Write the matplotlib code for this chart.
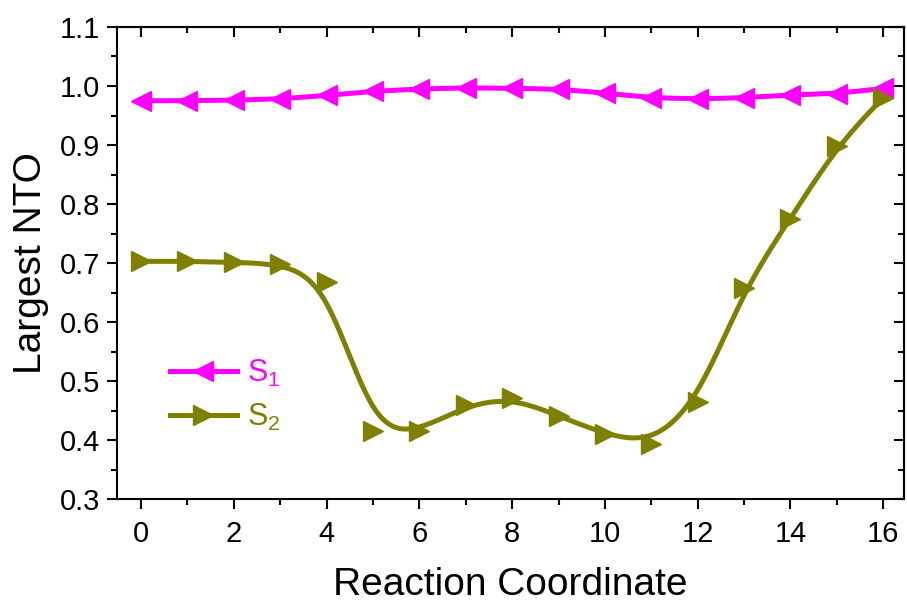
import numpy as np
import matplotlib
matplotlib.use("Agg")
import matplotlib.pyplot as plt
from matplotlib.ticker import MultipleLocator

plt.rcParams['font.family'] = ['Liberation Sans', 'DejaVu Sans']
plt.rcParams['mathtext.fontset'] = 'custom'
plt.rcParams['mathtext.rm'] = 'Liberation Sans'
plt.rcParams['mathtext.it'] = 'Liberation Sans:italic'
plt.rcParams['mathtext.default'] = 'regular'

x = list(range(17))
s1 = [0.975, 0.975, 0.976, 0.978, 0.984, 0.991, 0.995, 0.997, 0.996,
      0.995, 0.988, 0.980, 0.978, 0.980, 0.985, 0.987, 0.996]
s2 = [0.703, 0.703, 0.701, 0.699, 0.668, 0.415, 0.415, 0.459, 0.472,
      0.441, 0.410, 0.394, 0.465, 0.657, 0.775, 0.898, 0.980]

MAGENTA = '#FF00FF'
OLIVE = '#808000'


def bspline(px, py, n=40):
    px = np.asarray(px, float)
    py = np.asarray(py, float)
    P = np.column_stack([px, py])
    P = np.vstack([P[0], P[0], P, P[-1], P[-1]])
    t = np.linspace(0, 1, n, endpoint=False)
    b0 = (1 - t) ** 3 / 6
    b1 = (3 * t ** 3 - 6 * t ** 2 + 4) / 6
    b2 = (-3 * t ** 3 + 3 * t ** 2 + 3 * t + 1) / 6
    b3 = t ** 3 / 6
    out = []
    for i in range(len(P) - 3):
        seg = (np.outer(b0, P[i]) + np.outer(b1, P[i + 1]) +
               np.outer(b2, P[i + 2]) + np.outer(b3, P[i + 3]))
        out.append(seg)
    out.append(P[-1][None, :])
    out = np.vstack(out)
    return out[:, 0], out[:, 1]


fig = plt.figure(figsize=(9.07, 6.05), dpi=100)
ax = fig.add_axes([0.129, 0.175, 0.8677, 0.7804])

lw = 3.6
ms = 15

bx, by = bspline(x, s1)
ax.plot(bx, by, color=MAGENTA, lw=lw, zorder=2)
ax.plot(x, s1, linestyle='none', marker='<', ms=ms, color=MAGENTA, zorder=3)
bx, by = bspline(x, s2)
ax.plot(bx, by, color=OLIVE, lw=lw, zorder=2)
ax.plot(x, s2, linestyle='none', marker='>', ms=ms, color=OLIVE, zorder=3)

# legend proxies
h1, = ax.plot([], [], color=MAGENTA, lw=lw, marker='<', ms=ms)
h2, = ax.plot([], [], color=OLIVE, lw=lw, marker='>', ms=ms)
leg = ax.legend([h1, h2], ['S$_1$', 'S$_2$'], loc='upper left',
                bbox_to_anchor=(0.067, 0.30), frameon=False, fontsize=22,
                handlelength=2.2, handletextpad=0.33, labelspacing=0.43,
                borderpad=0, borderaxespad=0, numpoints=1,
                labelcolor='linecolor')

ax.set_xlim(-0.52, 16.45)
ax.set_ylim(0.3, 1.1)
ax.xaxis.set_major_locator(MultipleLocator(2))
ax.xaxis.set_minor_locator(MultipleLocator(1))
ax.yaxis.set_major_locator(MultipleLocator(0.1))
ax.yaxis.set_minor_locator(MultipleLocator(0.05))
ax.yaxis.set_major_formatter(matplotlib.ticker.FormatStrFormatter('%.1f'))

for s in ax.spines.values():
    s.set_linewidth(1.5)

ax.tick_params(which='both', direction='out', width=1.5, labelsize=21,
               top=False, right=False)
ax.tick_params(which='major', length=7)
ax.tick_params(which='minor', length=4)
ax.tick_params(axis='x', which='major', pad=8)
ax.tick_params(axis='y', which='major', pad=5)

# mirrored inward ticks on top/right
axt = ax.secondary_xaxis('top')
axt.xaxis.set_major_locator(MultipleLocator(2))
axt.xaxis.set_minor_locator(MultipleLocator(1))
axt.tick_params(which='both', direction='in', width=1.5, labeltop=False)
axt.tick_params(which='major', length=7)
axt.tick_params(which='minor', length=4)
axt.spines['top'].set_linewidth(1.5)
axr = ax.secondary_yaxis('right')
axr.yaxis.set_major_locator(MultipleLocator(0.1))
axr.yaxis.set_minor_locator(MultipleLocator(0.05))
axr.tick_params(which='both', direction='in', width=1.5, labelright=False)
axr.tick_params(which='major', length=7)
axr.tick_params(which='minor', length=4)
axr.spines['right'].set_linewidth(1.5)

ax.set_xlabel('Reaction Coordinate', fontsize=28, labelpad=14)
ax.set_ylabel('Largest NTO', fontsize=28, labelpad=8)

fig.savefig('out.png', dpi=100)
